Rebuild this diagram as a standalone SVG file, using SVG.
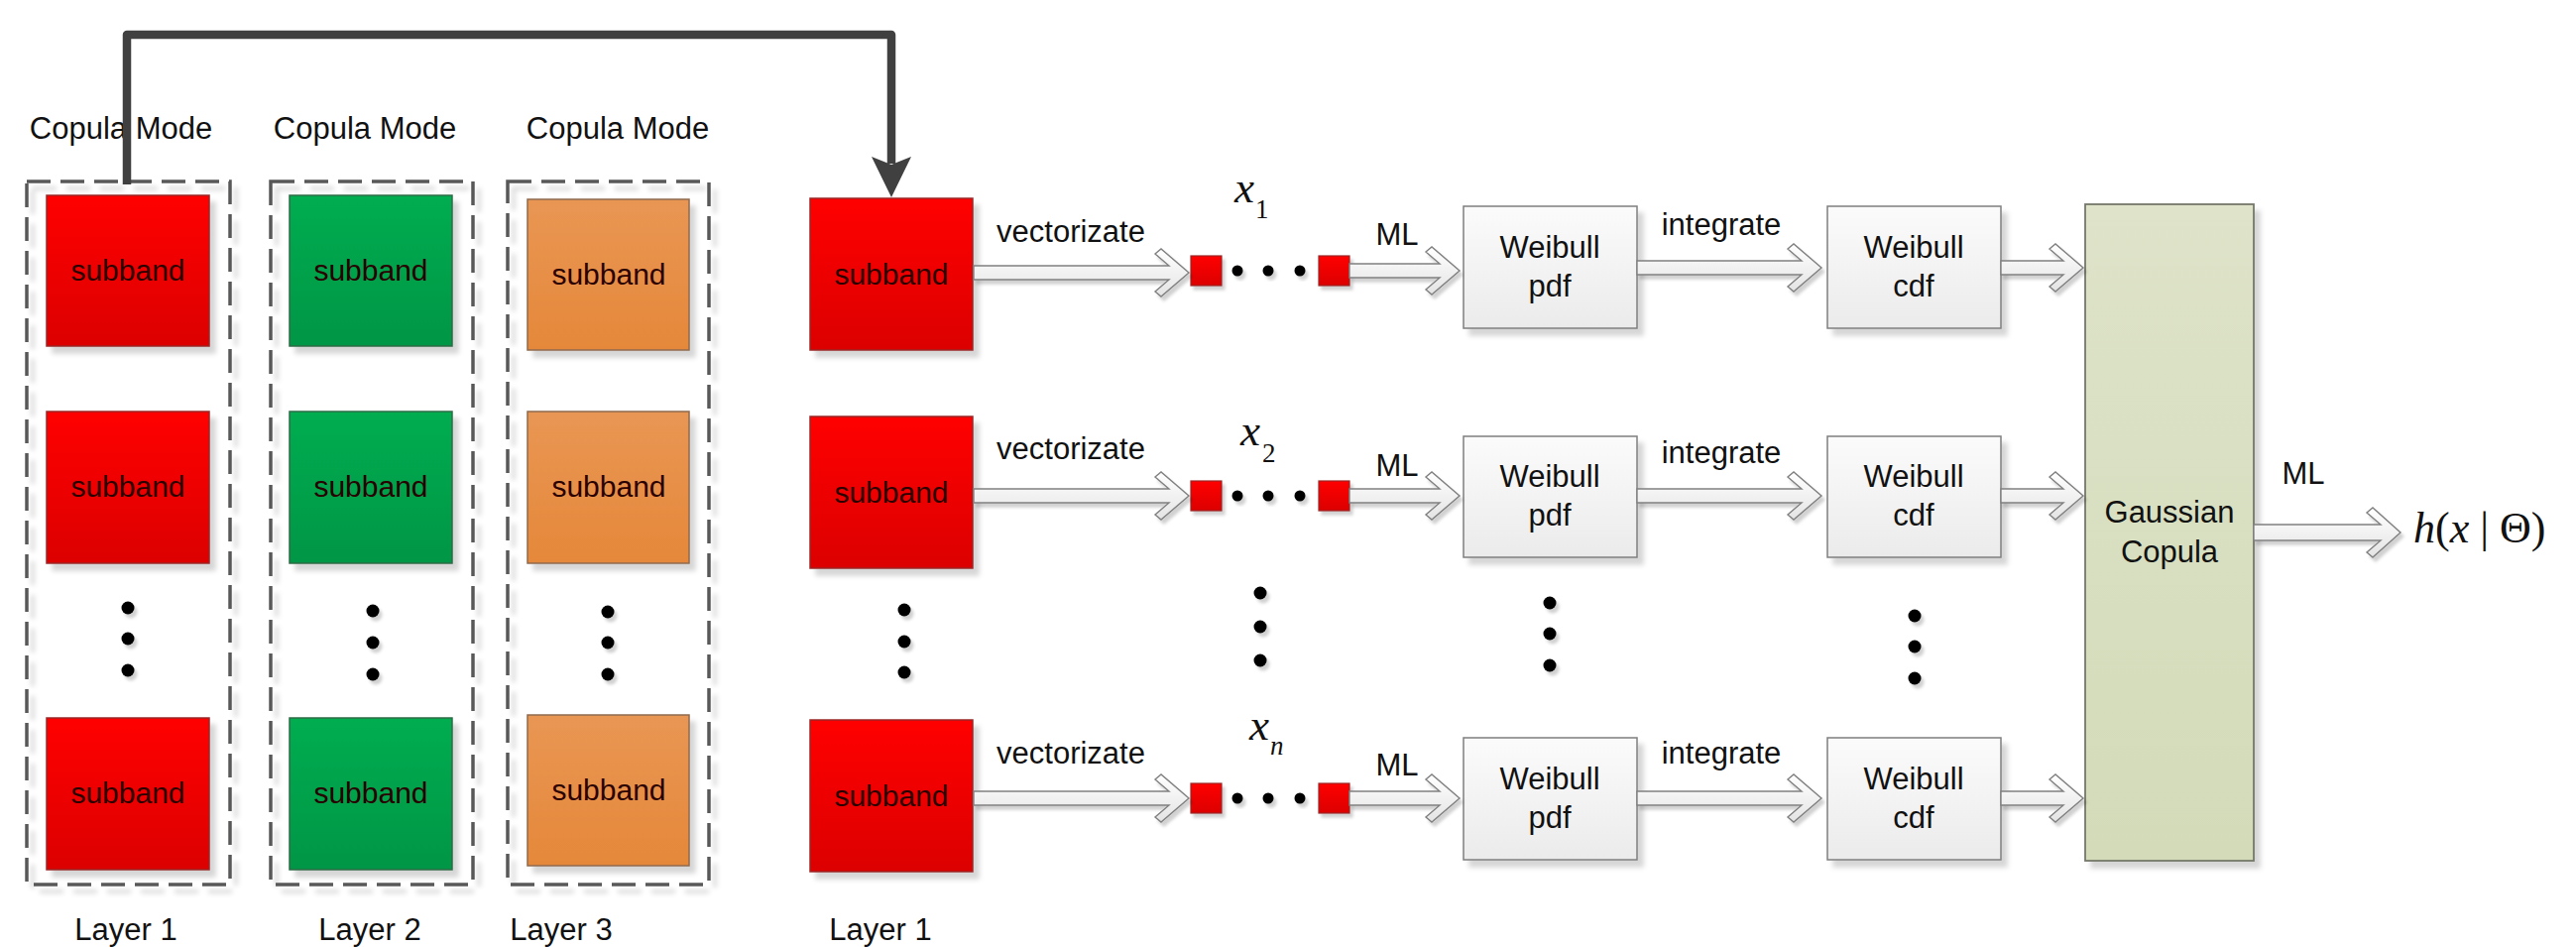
<svg xmlns="http://www.w3.org/2000/svg" width="2598" height="955" viewBox="0 0 2598 955">
<defs>
<linearGradient id="gRed" x1="0" y1="0" x2="0" y2="1"><stop offset="0" stop-color="#ff0000"/><stop offset="1" stop-color="#dc0000"/></linearGradient>
<linearGradient id="gGreen" x1="0" y1="0" x2="0" y2="1"><stop offset="0" stop-color="#00ad50"/><stop offset="1" stop-color="#009646"/></linearGradient>
<linearGradient id="gOrange" x1="0" y1="0" x2="0" y2="1"><stop offset="0" stop-color="#e99654"/><stop offset="1" stop-color="#e5883a"/></linearGradient>
<linearGradient id="gGrey" x1="0" y1="0" x2="0" y2="1"><stop offset="0" stop-color="#fbfbfb"/><stop offset="1" stop-color="#ebebeb"/></linearGradient>
<linearGradient id="gCop" x1="0" y1="0" x2="0" y2="1"><stop offset="0" stop-color="#dee3c9"/><stop offset="1" stop-color="#d3dbb9"/></linearGradient>
<linearGradient id="gArr" x1="0" y1="0" x2="0" y2="1"><stop offset="0" stop-color="#ffffff"/><stop offset="1" stop-color="#e4e4e4"/></linearGradient>
<filter id="sh" x="-10%" y="-10%" width="130%" height="130%"><feDropShadow dx="6" dy="7" stdDeviation="2.5" flood-color="#000" flood-opacity="0.16"/></filter>
<filter id="shs" x="-50%" y="-50%" width="200%" height="200%"><feDropShadow dx="3" dy="4" stdDeviation="1.5" flood-color="#000" flood-opacity="0.18"/></filter>
<style>
.t{font-family:"Liberation Sans",Arial,sans-serif;font-size:31px;fill:#111;text-anchor:middle}
.st{font-family:"Liberation Sans",Arial,sans-serif;font-size:30px;fill:#2a0000;text-anchor:middle}
.mi{font-family:"Liberation Serif","Times New Roman",serif;font-style:italic;fill:#111}
.mr{font-family:"Liberation Serif","Times New Roman",serif;fill:#111}
.dash{fill:none;stroke:#595959;stroke-width:3.5;stroke-dasharray:24 10;filter:url(#sh)}
.red{fill:url(#gRed);stroke:#9a2a2a;stroke-width:1.5;filter:url(#sh)}
.green{fill:url(#gGreen);stroke:#2f6b45;stroke-width:1.5;filter:url(#sh)}
.orange{fill:url(#gOrange);stroke:#8e6a4e;stroke-width:1.5;filter:url(#sh)}
.wb{fill:url(#gGrey);stroke:#7f7f7f;stroke-width:1.5;filter:url(#sh)}
.cop{fill:url(#gCop);stroke:#75786a;stroke-width:1.8;filter:url(#sh)}
.sq{fill:url(#gRed);stroke:#9a2a2a;stroke-width:1.2;filter:url(#shs)}
.dot{fill:#000;filter:url(#shs)}
.ha{fill:url(#gArr);stroke:#808080;stroke-width:1.4;stroke-linejoin:miter;filter:url(#shs)}
</style>
</defs>
<rect width="2598" height="955" fill="#ffffff"/>

<!-- Copula Mode labels -->
<g id="labels-top">
<text class="t" x="122" y="140">Copula Mode</text>
<text class="t" x="368" y="140">Copula Mode</text>
<text class="t" x="623" y="140">Copula Mode</text>
</g>

<!-- Layer groups (dashed) -->
<g id="layer1-group">
<rect class="dash" x="27" y="183" width="205" height="709"/>
<rect class="red" x="47" y="197" width="164" height="152"/><text class="st" x="129" y="283">subband</text>
<rect class="red" x="47" y="415" width="164" height="153"/><text class="st" x="129" y="501">subband</text>
<circle class="dot" cx="129" cy="613" r="6.5"/><circle class="dot" cx="129" cy="644" r="6.5"/><circle class="dot" cx="129" cy="676" r="6.5"/>
<rect class="red" x="47" y="724" width="164" height="153"/><text class="st" x="129" y="810">subband</text>
<text class="t" x="127" y="948">Layer 1</text>
</g>
<g id="layer2-group">
<rect class="dash" x="273" y="183" width="204" height="709"/>
<rect class="green" x="292" y="197" width="164" height="152"/><text class="st" x="374" y="283">subband</text>
<rect class="green" x="292" y="415" width="164" height="153"/><text class="st" x="374" y="501">subband</text>
<circle class="dot" cx="376" cy="616" r="6.5"/><circle class="dot" cx="376" cy="648" r="6.5"/><circle class="dot" cx="376" cy="680" r="6.5"/>
<rect class="green" x="292" y="724" width="164" height="153"/><text class="st" x="374" y="810">subband</text>
<text class="t" x="373" y="948">Layer 2</text>
</g>
<g id="layer3-group">
<rect class="dash" x="512" y="183" width="203" height="709"/>
<rect class="orange" x="532" y="201" width="163" height="152"/><text class="st" x="614" y="287">subband</text>
<rect class="orange" x="532" y="415" width="163" height="153"/><text class="st" x="614" y="501">subband</text>
<circle class="dot" cx="613" cy="617" r="6.5"/><circle class="dot" cx="613" cy="648" r="6.5"/><circle class="dot" cx="613" cy="680" r="6.5"/>
<rect class="orange" x="532" y="721" width="163" height="152"/><text class="st" x="614" y="807">subband</text>
<text class="t" x="566" y="948">Layer 3</text>
</g>

<!-- Right Layer 1 column -->
<g id="sub-r1"><rect class="red" x="817" y="200" width="164" height="153"/><text class="st" x="899" y="287">subband</text></g>
<g id="sub-r2"><rect class="red" x="817" y="420" width="164" height="153"/><text class="st" x="899" y="507">subband</text></g>
<g id="sub-dots"><circle class="dot" cx="912" cy="615" r="6.5"/><circle class="dot" cx="912" cy="647" r="6.5"/><circle class="dot" cx="912" cy="678" r="6.5"/></g>
<g id="sub-r3"><rect class="red" x="817" y="726" width="164" height="153"/><text class="st" x="899" y="813">subband</text></g>
<g id="layer1-label-r"><text class="t" x="888" y="948">Layer 1</text></g>

<!-- vectors -->
<g id="vec1">
<rect class="sq" x="1201" y="258" width="31" height="30"/>
<circle class="dot" cx="1248" cy="273" r="5.5"/><circle class="dot" cx="1279" cy="273" r="5.5"/><circle class="dot" cx="1311" cy="273" r="5.5"/>
<rect class="sq" x="1330" y="258" width="31" height="30"/>
<text class="mi" x="1245" y="204" font-size="45">x</text><text class="mr" x="1266" y="220" font-size="27">1</text>
</g>
<g id="vec2">
<rect class="sq" x="1201" y="485" width="31" height="30"/>
<circle class="dot" cx="1248" cy="500" r="5.5"/><circle class="dot" cx="1279" cy="500" r="5.5"/><circle class="dot" cx="1311" cy="500" r="5.5"/>
<rect class="sq" x="1330" y="485" width="31" height="30"/>
<text class="mi" x="1251" y="449" font-size="45">x</text><text class="mr" x="1273" y="466" font-size="27">2</text>
</g>
<g id="vec-dots"><circle class="dot" cx="1271" cy="598" r="6.5"/><circle class="dot" cx="1271" cy="632" r="6.5"/><circle class="dot" cx="1271" cy="666" r="6.5"/></g>
<g id="vecn">
<rect class="sq" x="1201" y="790" width="31" height="30"/>
<circle class="dot" cx="1248" cy="805" r="5.5"/><circle class="dot" cx="1279" cy="805" r="5.5"/><circle class="dot" cx="1311" cy="805" r="5.5"/>
<rect class="sq" x="1330" y="790" width="31" height="30"/>
<text class="mi" x="1260" y="746" font-size="45">x</text><text class="mi" x="1281" y="761" font-size="27">n</text>
</g>

<!-- Weibull pdf -->
<g id="pdf1"><rect class="wb" x="1476" y="208" width="175" height="123"/><text class="t" x="1563" y="260">Weibull</text><text class="t" x="1563" y="299">pdf</text></g>
<g id="pdf2"><rect class="wb" x="1476" y="440" width="175" height="122"/><text class="t" x="1563" y="491">Weibull</text><text class="t" x="1563" y="530">pdf</text></g>
<g id="pdf-dots"><circle class="dot" cx="1563" cy="608" r="6.5"/><circle class="dot" cx="1563" cy="639" r="6.5"/><circle class="dot" cx="1563" cy="671" r="6.5"/></g>
<g id="pdf3"><rect class="wb" x="1476" y="744" width="175" height="123"/><text class="t" x="1563" y="796">Weibull</text><text class="t" x="1563" y="835">pdf</text></g>

<!-- Weibull cdf -->
<g id="cdf1"><rect class="wb" x="1843" y="208" width="175" height="123"/><text class="t" x="1930" y="260">Weibull</text><text class="t" x="1930" y="299">cdf</text></g>
<g id="cdf2"><rect class="wb" x="1843" y="440" width="175" height="122"/><text class="t" x="1930" y="491">Weibull</text><text class="t" x="1930" y="530">cdf</text></g>
<g id="cdf-dots"><circle class="dot" cx="1931" cy="621" r="6.5"/><circle class="dot" cx="1931" cy="652" r="6.5"/><circle class="dot" cx="1931" cy="684" r="6.5"/></g>
<g id="cdf3"><rect class="wb" x="1843" y="744" width="175" height="123"/><text class="t" x="1930" y="796">Weibull</text><text class="t" x="1930" y="835">cdf</text></g>

<!-- Gaussian Copula -->
<g id="copula"><rect class="cop" x="2103" y="206" width="170" height="662"/><text class="t" x="2188" y="527">Gaussian</text><text class="t" x="2188" y="567">Copula</text></g>

<!-- output -->
<g id="output"><text class="mr" x="2434" y="547" font-size="44"><tspan class="mi">h</tspan>(<tspan class="mi">x</tspan> | Θ)</text></g>

<!-- connectors -->
<g id="connectors">
<path d="M128,186 V35 H899 V165" fill="none" stroke="#404040" stroke-width="8.5" stroke-linejoin="round"/>
<polygon points="879,158 899,166 919,158 899,199" fill="#404040"/>

<path class="ha" d="M982,268 H1179 L1165,256 L1171,251 L1199,275 L1171,299 L1165,294 L1179,282 H982 Z"/>
<path class="ha" d="M1361,266 H1452 L1438,254 L1444,249 L1472,273 L1444,297 L1438,292 L1452,280 H1361 Z"/>
<path class="ha" d="M1651,263 H1817 L1803,251 L1809,246 L1837,270 L1809,294 L1803,289 L1817,277 H1651 Z"/>
<path class="ha" d="M2018,263 H2081 L2067,251 L2073,246 L2101,270 L2073,294 L2067,289 L2081,277 H2018 Z"/>

<path class="ha" d="M982,493 H1179 L1165,481 L1171,476 L1199,500 L1171,524 L1165,519 L1179,507 H982 Z"/>
<path class="ha" d="M1361,493 H1452 L1438,481 L1444,476 L1472,500 L1444,524 L1438,519 L1452,507 H1361 Z"/>
<path class="ha" d="M1651,493 H1817 L1803,481 L1809,476 L1837,500 L1809,524 L1803,519 L1817,507 H1651 Z"/>
<path class="ha" d="M2018,493 H2081 L2067,481 L2073,476 L2101,500 L2073,524 L2067,519 L2081,507 H2018 Z"/>

<path class="ha" d="M982,798 H1179 L1165,786 L1171,781 L1199,805 L1171,829 L1165,824 L1179,812 H982 Z"/>
<path class="ha" d="M1361,798 H1452 L1438,786 L1444,781 L1472,805 L1444,829 L1438,824 L1452,812 H1361 Z"/>
<path class="ha" d="M1651,798 H1817 L1803,786 L1809,781 L1837,805 L1809,829 L1803,824 L1817,812 H1651 Z"/>
<path class="ha" d="M2018,798 H2081 L2067,786 L2073,781 L2101,805 L2073,829 L2067,824 L2081,812 H2018 Z"/>

<path class="ha" d="M2273,529 H2401 L2387,517 L2393,512 L2421,537 L2393,562 L2387,557 L2401,545 H2273 Z"/>

<text class="t" x="1080" y="244">vectorizate</text>
<text class="t" x="1080" y="463">vectorizate</text>
<text class="t" x="1080" y="770">vectorizate</text>
<text class="t" x="1409" y="247">ML</text>
<text class="t" x="1409" y="480">ML</text>
<text class="t" x="1409" y="782">ML</text>
<text class="t" x="1736" y="237">integrate</text>
<text class="t" x="1736" y="467">integrate</text>
<text class="t" x="1736" y="770">integrate</text>
<text class="t" x="2323" y="488">ML</text>
</g>
</svg>
